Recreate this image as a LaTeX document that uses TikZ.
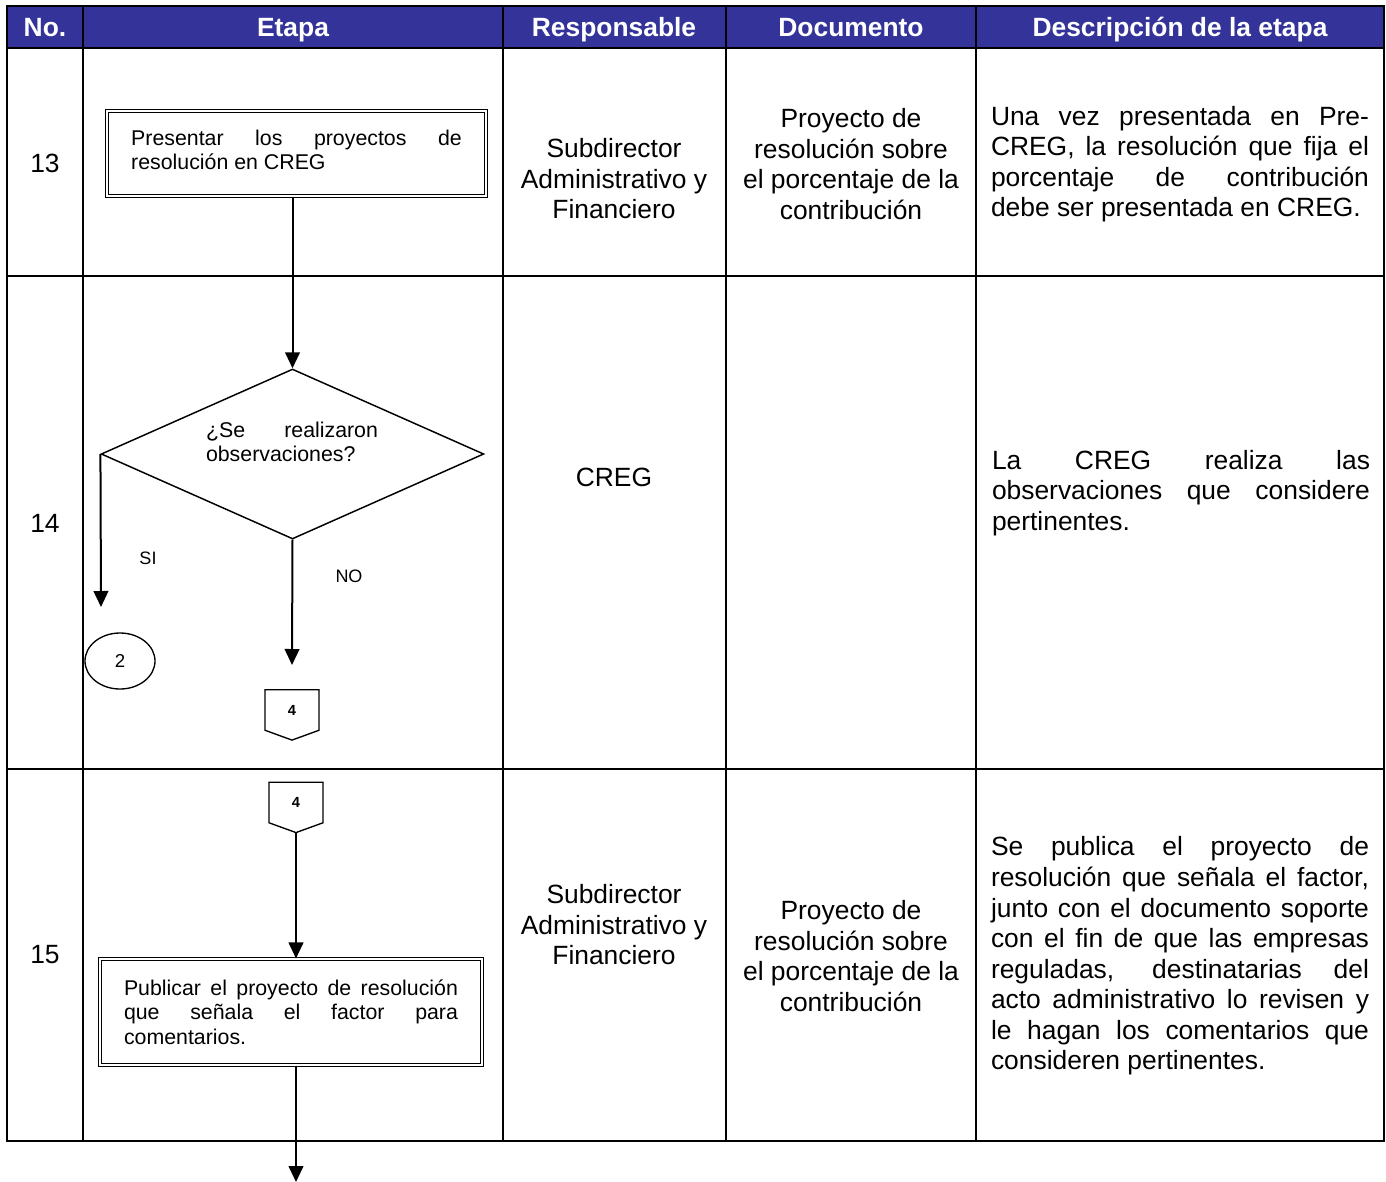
\documentclass[tikz,border=0pt]{standalone}
\usepackage{fontspec}
\setmainfont{Liberation Sans}
\usepackage{tikz}
\usetikzlibrary{shapes.geometric,shapes.symbols,arrows.meta,positioning}
\definecolor{headblue}{HTML}{333399}

\begin{document}
\begin{tikzpicture}[x=0.75pt, y=-0.75pt,
    grid/.style={line width=1.5pt},
    flow/.style={line width=1.5pt, -{Triangle[width=11pt,length=12pt]}},
    head/.style={text=white, inner sep=0pt, anchor=base, font=\bfseries\fontsize{19.8}{22.9}\selectfont},
    cell/.style={align=center, inner sep=0pt, font=\fontsize{19.8}{22.9}\selectfont},
    desc/.style={align=justify, text width=283.5pt, inner sep=0pt, font=\fontsize{19.8}{22.9}\selectfont},
    process/.style={draw, double, line width=0.8pt, double distance=1.6pt, align=justify,
        inner xsep=18pt, inner ysep=4pt, font=\fontsize{16}{18.2}\selectfont},
    offpage/.style={draw, line width=1pt, signal, signal to=south, signal pointer angle=140,
        minimum width=40.5pt, minimum height=31.5pt, inner sep=0pt, font=\bfseries\fontsize{11}{13}\selectfont},
    small/.style={inner sep=0pt, font=\fontsize{13.5}{15}\selectfont}
]
    \useasboundingbox (0,0) rectangle (1386,1182);

    % Header
    \fill[headblue] (7,6) rectangle (1384,48);
    \node[head] (h no) at (45,36.5) {No.};
    \node[head] (h etapa) at (293,36.5) {Etapa};
    \node[head] (h resp) at (614,36.5) {Responsable};
    \node[head] (h doc) at (851,36.5) {Documento};
    \node[head] (h desc) at (1180,36.5) {Descripción de la etapa};

    % Grid
    \draw[grid] (7,6) rectangle (1384,1141);
    \foreach \y in {48,276,769} {
        \draw[grid] (7,\y) -- (1384,\y);
    }
    \foreach \x in {83,503,726,976} {
        \draw[grid] (\x,6) -- (\x,1141);
    }

    % Row 13
    \node[cell] (n13) at (45,163) {13};
    \node[process, text width=248pt, minimum height=64pt] (box13) at (296.5,153.5)
        {Presentar los proyectos de\linebreak resolución en CREG\rule[-6pt]{0pt}{6pt}};
    \node[cell] (resp13) at (614,179) {Subdirector\\Administrativo y\\Financiero};
    \node[cell] (doc13) at (851,164) {Proyecto de\\resolución sobre\\el porcentaje de la\\contribución};
    \node[desc] (desc13) at (1180,164) {Una vez presentada en Pre-\linebreak CREG, la resolución que fija el\linebreak porcentaje de contribución\linebreak debe ser presentada en CREG.};

    % Row 14
    \node[cell] (n14) at (45,523) {14};
    \node[draw, diamond, line width=1.1pt, minimum width=287pt, minimum height=127.5pt, inner sep=0pt] (dec) at (292.5,454) {};
    \node[align=justify, text width=129pt, inner sep=0pt, font=\fontsize{16}{18.2}\selectfont] (dec text) at (292,442) {¿Se realizaron\linebreak observaciones?};
    \node[small] (si) at (148,558) {SI};
    \node[small] (no) at (349,576) {NO};
    \coordinate (si end) at (101,607);
    \coordinate (no end) at (292,665);
    \node[draw, ellipse, line width=1pt, minimum width=52.5pt, minimum height=42pt, inner sep=0pt, font=\fontsize{14}{16}\selectfont] (c2) at (120,661) {2};
    \node[offpage] (c4a) at (292,710) {4};
    \node[cell] (resp14) at (614,477) {CREG};
    \node[desc] (desc14) at (1181,493) {La CREG realiza las\linebreak observaciones que considere\linebreak pertinentes.};

    % Row 15
    \node[cell] (n15) at (45,955) {15};
    \node[offpage] (c4b) at (296,802.5) {4};
    \node[process, text width=250.5pt, minimum height=79.5pt] (box15) at (291,1012)
        {Publicar el proyecto de resolución\linebreak que señala el factor para\linebreak comentarios.};
    \coordinate (out) at (296,1182);
    \node[cell] (resp15) at (614,925) {Subdirector\\Administrativo y\\Financiero};
    \node[cell] (doc15) at (851,956) {Proyecto de\\resolución sobre\\el porcentaje de la\\contribución};
    \node[desc] (desc15) at (1180,956) {Se publica el proyecto de\linebreak resolución que señala el factor,\linebreak junto con el documento soporte\linebreak con el fin de que las empresas\linebreak reguladas, destinatarias del\linebreak acto administrativo lo revisen y\linebreak le hagan los comentarios que\linebreak consideren pertinentes.};

    % Connectors
    \draw[flow] (dec.north |- box13.south) -- (dec.north);
    \draw[flow] (dec.west) -- (si end);
    \draw[flow] (dec.south) -- (no end);
    \draw[flow] (c4b.south) -- (c4b.south |- box15.north);
    \draw[flow] (c4b.south |- box15.south) -- (out);
\end{tikzpicture}
\end{document}
